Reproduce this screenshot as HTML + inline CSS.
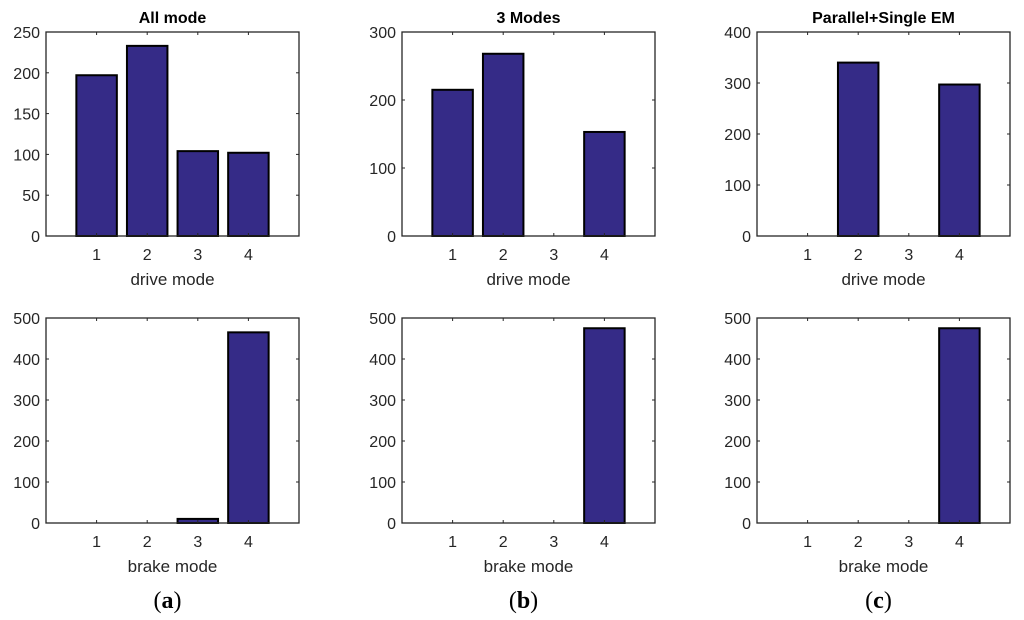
<!DOCTYPE html>
<html><head><meta charset="utf-8"><style>
body{margin:0;background:#fff;}
svg{display:block;font-family:"Liberation Sans",sans-serif;}
</style></head><body>
<svg id="fig" width="1024" height="620" viewBox="0 0 1024 620"></svg>
<script>
const categories = [1, 2, 3, 4];
const driveAll = [197, 233, 104, 102];
const drive3 = [215, 268, 0, 153];
const driveParallel = [0, 340, 0, 297];
const brakeAll = [0, 0, 10, 465];
const brake3 = [0, 0, 0, 475];
const brakeParallel = [0, 0, 0, 475];
const ticksAll = [0, 50, 100, 150, 200, 250];
const ticks300 = [0, 100, 200, 300];
const ticks400 = [0, 100, 200, 300, 400];
const ticks500 = [0, 100, 200, 300, 400, 500];
const titles = ["All mode", "3 Modes", "Parallel+Single EM"];
const captions = ["a", "b", "c"];

const NS = "http://www.w3.org/2000/svg";
const svg = document.getElementById("fig");
function mk(tag, attrs, parent) {
  const e = document.createElementNS(NS, tag);
  for (const k in attrs) e.setAttribute(k, attrs[k]);
  (parent || svg).appendChild(e);
  return e;
}
const lefts = [46, 402, 757];
const W = 253;
const rows = [{top: 32, bottom: 236}, {top: 318, bottom: 523}];
const panels = [
  {col: 0, row: 0, data: driveAll, ticks: ticksAll, xl: "drive mode"},
  {col: 1, row: 0, data: drive3, ticks: ticks300, xl: "drive mode"},
  {col: 2, row: 0, data: driveParallel, ticks: ticks400, xl: "drive mode"},
  {col: 0, row: 1, data: brakeAll, ticks: ticks500, xl: "brake mode"},
  {col: 1, row: 1, data: brake3, ticks: ticks500, xl: "brake mode"},
  {col: 2, row: 1, data: brakeParallel, ticks: ticks500, xl: "brake mode"}
];
panels.forEach((p, pi) => {
  const L = lefts[p.col], T = rows[p.row].top, B = rows[p.row].bottom;
  const ymax = p.ticks[p.ticks.length - 1];
  const xs = v => L + v * W / 5;
  const ys = v => B - v / ymax * (B - T);
  const g = mk("g", {});
  
  
  categories.forEach((c, i) => {
    const v = p.data[i];
    const r = mk("rect", {x: xs(c - 0.4), y: ys(v), width: xs(c + 0.4) - xs(c - 0.4), height: B - ys(v), fill: "#352b87", stroke: "#000", "stroke-width": 2}, g);
    
    
    const t = mk("text", {x: xs(c), y: B + 24, "text-anchor": "middle", "font-size": 16, fill: "#262626"}, g);
    t.textContent = c;
    
    
    mk("line", {x1: xs(c), x2: xs(c), y1: B, y2: B - 3, stroke: "#262626"}, g);
    mk("line", {x1: xs(c), x2: xs(c), y1: T, y2: T + 3, stroke: "#262626"}, g);
  });
  p.ticks.forEach(tv => {
    const t = mk("text", {x: L - 6, y: ys(tv) + 6, "text-anchor": "end", "font-size": 16, fill: "#262626"}, g);
    t.textContent = tv;
    
    
    mk("line", {x1: L, x2: L + 3, y1: ys(tv), y2: ys(tv), stroke: "#262626"}, g);
    mk("line", {x1: L + W, x2: L + W - 3, y1: ys(tv), y2: ys(tv), stroke: "#262626"}, g);
  });
  const box = mk("rect", {x: L, y: T, width: W, height: B - T, fill: "none", stroke: "#262626", "stroke-width": 1.3}, g);
  
  
  const xl = mk("text", {x: L + W / 2, y: B + 49, "text-anchor": "middle", "font-size": 17, fill: "#262626"}, g);
  xl.textContent = p.xl;
  
  
  if (p.row === 0) {
    const tt = mk("text", {x: L + W / 2, y: T - 9, "text-anchor": "middle", "font-size": 16, "font-weight": "bold", fill: "#000"}, g);
    tt.textContent = titles[p.col];
    
    
  } else {
    const cap = mk("text", {x: L + W / 2 - 5, y: 608, "text-anchor": "middle", "font-size": 24, "font-family": "Liberation Serif, serif", fill: "#000"}, g);
    cap.innerHTML = '(<tspan font-weight="bold">' + captions[p.col] + '</tspan>)';
    
    
  }
});
</script>
</body></html>
